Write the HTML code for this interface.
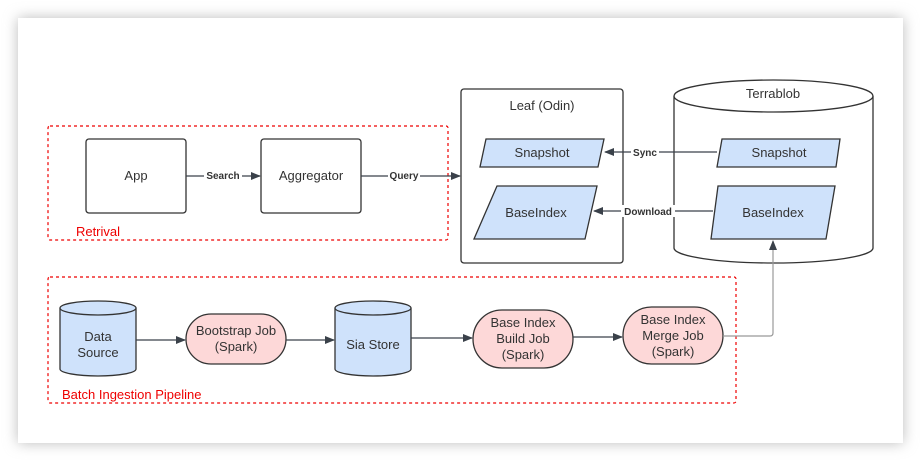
<!DOCTYPE html><html><head><style>body{margin:0;background:#fff}svg{display:block}text{font-family:"Liberation Sans",sans-serif;fill:#333;font-size:13px;text-anchor:middle}</style></head><body>
<svg width="921" height="462" viewBox="0 0 921 462">
<defs><filter id="sh" x="-5%" y="-5%" width="110%" height="110%"><feGaussianBlur stdDeviation="7"/></filter>
<marker id="ar" markerWidth="10" markerHeight="8" refX="9" refY="4" orient="auto" markerUnits="userSpaceOnUse"><path d="M0,0L10,4L0,8z" fill="#3a414a"/></marker>
<marker id="ag" markerWidth="10" markerHeight="8" refX="9" refY="4" orient="auto" markerUnits="userSpaceOnUse"><path d="M0,0L10,4L0,8z" fill="#3a414a"/></marker></defs>
<rect x="18" y="18" width="885" height="425" fill="#bbb" filter="url(#sh)"/>
<rect x="18" y="18" width="885" height="425" fill="#fff"/>
<g stroke="#e00" stroke-dasharray="3,3" fill="none" stroke-width="1.2">
<rect x="48" y="126" width="400" height="114" rx="2"/><rect x="48" y="277" width="688" height="126" rx="2"/></g>
<text x="98" y="236" style="fill:#e00">Retrival</text>
<text x="62" y="399" style="fill:#e00;text-anchor:start">Batch Ingestion Pipeline</text>
<g stroke="#333" stroke-width="1.3" fill="#fff">
<rect x="86" y="139" width="100" height="74" rx="3"/><rect x="261" y="139" width="100" height="74" rx="3"/>
<rect x="461" y="89" width="162" height="174" rx="3"/>
<path d="M674,96 V248 A99.5,15 0 0 0 873,248 V96" />
<ellipse cx="773.5" cy="96" rx="99.5" ry="16"/>
</g>
<g stroke="#333" stroke-width="1.3" fill="#cfe2fb">
<path d="M486,139H604L598,167H480Z"/><path d="M497,186H597L585,239H474Z"/>
<path d="M722,139H840L836,167H717Z"/><path d="M718,186H835L826,239H711Z"/>
<path d="M60,308V369A38,7 0 0 0 136,369V308"/><ellipse cx="98" cy="308" rx="38" ry="7"/>
<path d="M335,308V369A38,7 0 0 0 411,369V308"/><ellipse cx="373" cy="308" rx="38" ry="7"/>
</g>
<g stroke="#333" stroke-width="1.3" fill="#fdd8d8">
<rect x="186" y="314" width="100" height="50" rx="25"/>
<rect x="473" y="310" width="100" height="58" rx="29"/>
<rect x="623" y="307" width="100" height="57" rx="28.5"/>
</g>
<g stroke="#3a414a" stroke-width="1.2" fill="none">
<path d="M186,176H260" marker-end="url(#ar)"/><path d="M361,176H460" marker-end="url(#ar)"/>
<path d="M717,152H605" marker-end="url(#ar)"/><path d="M713,211H594" marker-end="url(#ar)"/>
<path d="M136,340H185" marker-end="url(#ar)"/><path d="M286,340H334" marker-end="url(#ar)"/>
<path d="M411,338H472" marker-end="url(#ar)"/><path d="M573,337H622" marker-end="url(#ar)"/>
<path d="M723,336H770Q773,336 773,333V241" stroke="#999" marker-end="url(#ag)"/>
</g>
<g style="font-size:10px;font-weight:bold">
<rect x="204" y="169" width="38" height="12" fill="#fff"/><text x="223" y="179" style="font-size:10px">Search</text>
<rect x="388" y="169" width="32" height="12" fill="#fff"/><text x="404" y="179" style="font-size:10px">Query</text>
<rect x="631" y="146" width="28" height="12" fill="#fff"/><text x="645" y="156" style="font-size:10px">Sync</text>
<rect x="621" y="205" width="54" height="12" fill="#fff"/><text x="648" y="215" style="font-size:10px">Download</text>
</g>
<text x="136" y="180">App</text><text x="311" y="180">Aggregator</text>
<text x="542" y="110">Leaf (Odin)</text><text x="773" y="98">Terrablob</text>
<text x="542" y="157">Snapshot</text><text x="536" y="217">BaseIndex</text>
<text x="779" y="157">Snapshot</text><text x="773" y="217">BaseIndex</text>
<text x="98" y="341">Data</text><text x="98" y="357">Source</text>
<text x="236" y="335">Bootstrap Job</text><text x="236" y="351">(Spark)</text>
<text x="373" y="349">Sia Store</text>
<text x="523" y="327">Base Index</text><text x="523" y="343">Build Job</text><text x="523" y="359">(Spark)</text>
<text x="673" y="324">Base Index</text><text x="673" y="340">Merge Job</text><text x="673" y="356">(Spark)</text>
</svg></body></html>
